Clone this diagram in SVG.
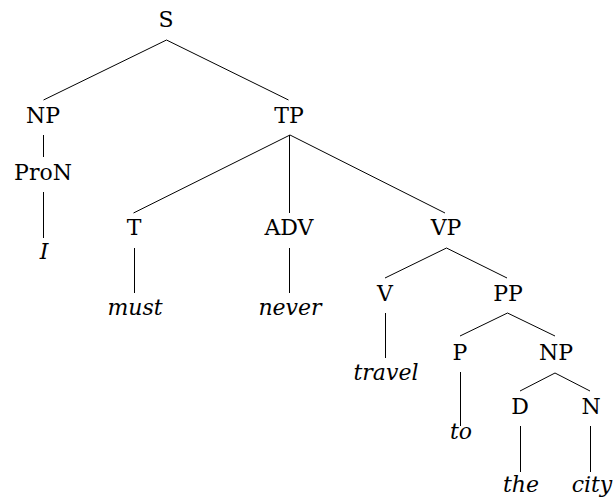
<svg xmlns="http://www.w3.org/2000/svg" width="613" height="502" viewBox="0 0 613 502">
<style>
text{font-family:"DejaVu Serif","Liberation Serif",serif;font-size:22px;fill:#000;text-anchor:middle}
.w{font-style:italic}
.e{stroke:#000;stroke-width:1;fill:none}
</style>
<rect width="613" height="502" fill="#fff"/>
<g id="connectors">
<path class="e" d="M166.5,40L43.5,100M166.5,40L288.5,100M43.5,135V157M43.5,192V238M290,135L133.5,213M289.5,135V213M290,135L445,213M134.5,248V293M289.5,248V293M446.5,248L385,278M446.5,248L507,278M385.5,313V358M507.5,313L460,336M507.5,313L555,336M460.5,372V426M555,373L520,391M555,373L590,391M520.5,426V472M590.5,426V472"/>
</g>
<g id="S"><text x="166" y="27">S</text></g>
<g id="NP1"><text x="43" y="123">NP</text></g>
<g id="ProN"><text x="43" y="180">ProN</text></g>
<g id="I"><text class="w" x="44" y="259">I</text></g>
<g id="TP"><text x="289" y="123">TP</text></g>
<g id="T"><text x="134" y="235">T</text></g>
<g id="ADV"><text x="289" y="235">ADV</text></g>
<g id="VP"><text x="446" y="235">VP</text></g>
<g id="must"><text class="w" x="135" y="315">must</text></g>
<g id="never"><text class="w" x="290" y="315">never</text></g>
<g id="V"><text x="385" y="301">V</text></g>
<g id="PP"><text x="508" y="301">PP</text></g>
<g id="travel"><text class="w" x="386" y="380">travel</text></g>
<g id="P"><text x="460" y="360">P</text></g>
<g id="NP2"><text x="556" y="360">NP</text></g>
<g id="to"><text class="w" x="461" y="439">to</text></g>
<g id="D"><text x="520" y="414">D</text></g>
<g id="N"><text x="591" y="414">N</text></g>
<g id="the"><text class="w" x="521" y="492">the</text></g>
<g id="city"><text class="w" x="592" y="492">city</text></g>
</svg>
